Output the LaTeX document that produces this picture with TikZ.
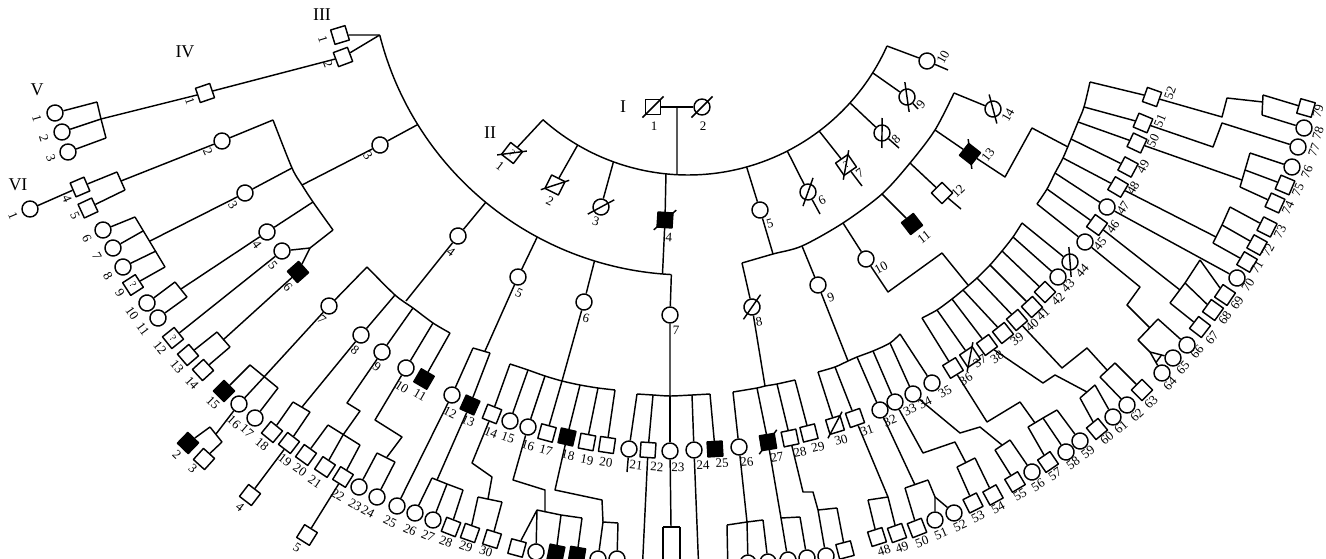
\documentclass[tikz,border=0pt]{standalone}
\usepackage{fontspec}
\setmainfont{Liberation Serif}
\usetikzlibrary{calc}
\tikzset{
  sym/.style={draw,line width=1.45pt,inner sep=0pt,fill=white},
  sq/.style={sym,rectangle,minimum size=15pt},
  sqf/.style={sq,fill=black},
  ci/.style={sym,circle,minimum size=16pt},
  lab/.style={inner sep=0pt,font=\fontsize{13}{13}\selectfont},
  gen/.style={inner sep=0pt,font=\fontsize{18}{18}\selectfont},
  qm/.style={inner sep=0pt,font=\fontsize{10}{10}\selectfont},
}
\newcommand\rotfor[2]{\pgfmathsetmacro\rr{atan2(-(#2)-70,(#1)-684)+90}}
\newcommand\ind[7]{\rotfor{#3}{#4}\node[#1,rotate=\rr] (#2) at (#3,#4) {};\node[lab,rotate=\rr] (#2l) at (#6,#7) {#5};}
\newcommand\indn[4]{\rotfor{#3}{#4}\node[#1,rotate=\rr] (#2) at (#3,#4) {};}
\newcommand\qmark[1]{\node[qm,rotate=\rr] (#1q) at (#1) {?};}
\newcommand\dec[1]{\draw ($(#1.center)!15pt!(#1.south west)$) -- ($(#1.center)!15pt!(#1.north east)$);}
\begin{document}
\begin{tikzpicture}[x=1pt,y=-1pt,line width=1.45pt,line join=round]
\useasboundingbox (0,0) rectangle (1326,559);
\clip (0,0) rectangle (1326,559);
% generation numerals
\node[gen] (gI) at (623,107) {I};
\node[gen] (gII) at (490,133) {II};
\node[gen] (gIII) at (322,15) {III};
\node[gen] (gIV) at (185,52) {IV};
\node[gen] (gV) at (37,90) {V};
\node[gen] (gVI) at (18,185) {VI};
% ---------------- Generation I
\node[sq] (I1) at (653,107) {};
\node[ci] (I2) at (702,107) {};
\node[lab] (I1l) at (654,126) {1};
\node[lab] (I2l) at (703,126) {2};
\dec{I1} \dec{I2}
% ---------------- Generation II
\ind{sq}{II1}{512}{153}{1}{500}{166}\qmark{II1}
\ind{sq}{II2}{555}{185}{2}{550}{201}
\ind{ci}{II3}{601}{207}{3}{596}{221}
\ind{sqf}{II4}{665}{220}{4}{669}{237}
\ind{ci}{II5}{760}{210}{5}{770}{224}
\ind{ci}{II6}{808}{192}{6}{822}{200}
\ind{sq}{II7}{846}{165}{7}{860}{173}\qmark{II7}
\ind{ci}{II8}{882}{133}{8}{896}{139}
\ind{ci}{II9}{907}{97}{9}{921}{104}
\ind{ci}{II10}{927}{61}{10}{943}{57}
\foreach \n in {II1,II2,II3,II4,II6,II7,II8,II9} {\dec{\n}}
% ---------------- Generation III
\ind{sq}{III1}{340}{35}{1}{323}{39}
\ind{sq}{III2}{343}{57}{2}{328}{64}
\ind{ci}{III3}{380}{145}{3}{368}{156}
\ind{ci}{III4}{458}{236}{4}{451}{252}
\ind{ci}{III5}{518}{277}{5}{519}{293}
\ind{ci}{III6}{584}{302}{6}{586}{318}
\ind{ci}{III7}{670}{315}{7}{676}{330}
\ind{ci}{III8}{752}{307}{8}{759}{322}
\ind{ci}{III9}{818}{285}{9}{831}{297}
\ind{ci}{III10}{866}{259}{10}{881}{268}
\ind{sqf}{III11}{912}{224}{11}{924}{237}
\ind{sq}{III12}{942}{193}{12}{958}{191}
\ind{sqf}{III13}{970}{154}{13}{988}{155}
\ind{ci}{III14}{993}{109}{14}{1008}{115}
\foreach \n in {III8,III13,III14} {\dec{\n}}
% ---------------- Generation IV
\ind{sq}{IV1}{205}{93}{1}{190}{101}
\ind{ci}{IV2}{222}{141}{2}{208}{152}
\ind{ci}{IV3}{245}{193}{3}{233}{205}
\ind{ci}{IV4}{267}{232}{4}{257}{245}
\ind{ci}{IV5}{282}{251}{5}{273}{265}
\ind{sqf}{IV6}{298}{272}{6}{288}{287}
\ind{ci}{IV7}{329}{306}{7}{322}{320}
\ind{ci}{IV8}{361}{335}{8}{355}{350}
\ind{ci}{IV9}{382}{352}{9}{377}{367}
\ind{ci}{IV10}{406}{368}{10}{402}{387}
\ind{sqf}{IV11}{424}{379}{11}{420}{395}
\ind{ci}{IV12}{452}{395}{12}{450}{413}
\ind{sqf}{IV13}{470}{405}{13}{468}{421}
\ind{sq}{IV14}{492}{414}{14}{491}{433}
\ind{ci}{IV15}{510}{421}{15}{508}{438}
\ind{ci}{IV16}{528}{427}{16}{528}{445}
\ind{sq}{IV17}{547}{433}{17}{546}{450}
\ind{sqf}{IV18}{567}{437}{18}{568}{455}
\ind{sq}{IV19}{587}{442}{19}{587}{460}
\ind{sq}{IV20}{607}{445}{20}{606}{462}
\ind{ci}{IV21}{629}{449}{21}{636}{465}
\ind{sq}{IV22}{648}{450}{22}{657}{467}
\ind{ci}{IV23}{670}{451}{23}{678}{467}
\ind{ci}{IV24}{694}{450}{24}{703}{465}
\ind{sqf}{IV25}{715}{449}{25}{722}{463}
\ind{ci}{IV26}{739}{447}{26}{747}{462}
\ind{sqf}{IV27}{768}{442}{27}{777}{457}
\ind{sq}{IV28}{790}{438}{28}{800}{452}
\ind{sq}{IV29}{809}{433}{29}{818}{447}
\ind{sq}{IV30}{835}{425}{30}{841}{440}
\ind{sq}{IV31}{855}{418}{31}{867}{430}
\ind{ci}{IV32}{880}{410}{32}{890}{421}
\ind{ci}{IV33}{895}{402}{33}{910}{410}
\ind{ci}{IV34}{913}{394}{34}{925}{403}
\ind{ci}{IV35}{932}{383}{35}{945}{392}
\ind{sq}{IV36}{953}{368}{36}{966}{379}
\ind{sq}{IV37}{970}{357}{37}{980}{361}
\ind{sq}{IV38}{987}{345}{38}{997}{357}
\ind{sq}{IV39}{1003}{333}{39}{1017}{339}
\ind{sq}{IV40}{1017}{320}{40}{1032}{325}
\ind{sq}{IV41}{1032}{307}{41}{1043}{314}
\ind{sq}{IV42}{1045}{292}{42}{1058}{299}
\ind{ci}{IV43}{1058}{277}{43}{1068}{286}
\ind{ci}{IV44}{1070}{262}{44}{1082}{271}
\ind{ci}{IV45}{1085}{242}{45}{1100}{244}
\ind{sq}{IV46}{1097}{225}{46}{1113}{227}
\ind{ci}{IV47}{1107}{207}{47}{1123}{208}
\ind{sq}{IV48}{1118}{187}{48}{1133}{188}
\ind{sq}{IV49}{1128}{167}{49}{1143}{167}
\ind{sq}{IV50}{1137}{143}{50}{1153}{141}
\ind{sq}{IV51}{1143}{123}{51}{1160}{121}
\ind{sq}{IV52}{1152}{97}{52}{1170}{93}
\foreach \n in {IV27,IV30,IV37,IV44} {\dec{\n}}
% ---------------- Generation V
\ind{ci}{V1}{55}{113}{1}{37}{118}
\ind{ci}{V2}{62}{132}{2}{44}{138}
\ind{ci}{V3}{68}{152}{3}{51}{158}
\ind{sq}{V4}{80}{187}{4}{67}{199}
\ind{sq}{V5}{88}{208}{5}{75}{216}
\ind{ci}{V6}{103}{230}{6}{87}{238}
\ind{ci}{V7}{113}{248}{7}{97}{256}
\ind{ci}{V8}{123}{267}{8}{108}{276}
\ind{sq}{V9}{133}{285}{9}{120}{293}\qmark{V9}
\ind{ci}{V10}{147}{303}{10}{132}{313}
\ind{ci}{V11}{158}{318}{11}{143}{329}
\ind{sq}{V12}{173}{338}{12}{160}{348}\qmark{V12}
\ind{sq}{V13}{188}{355}{13}{177}{367}
\ind{sq}{V14}{203}{370}{14}{192}{383}
\ind{sqf}{V15}{224}{391}{15}{213}{403}
\ind{ci}{V16}{239}{404}{16}{234}{422}
\ind{ci}{V17}{255}{418}{17}{247}{431}
\ind{sq}{V18}{272}{432}{18}{262}{444}
\ind{sq}{V19}{289}{443}{19}{285}{460}
\ind{sq}{V20}{306}{455}{20}{300}{470}
\ind{sq}{V21}{325}{467}{21}{315}{482}
\ind{sq}{V22}{343}{477}{22}{338}{495}
\ind{ci}{V23}{359}{487}{23}{355}{505}
\ind{ci}{V24}{377}{497}{24}{368}{512}
\ind{ci}{V25}{397}{506}{25}{390}{522}
\ind{ci}{V26}{415}{513}{26}{410}{530}
\ind{ci}{V27}{433}{520}{27}{428}{536}
\ind{sq}{V28}{451}{527}{28}{446}{542}
\ind{sq}{V29}{470}{533}{29}{466}{547}
\ind{sq}{V30}{492}{539}{30}{486}{551}
\indn{sq}{V31}{517}{548}
\indn{ci}{V32}{536}{552}
\indn{sqf}{V33}{556}{553}
\indn{sqf}{V34}{577}{555}
\indn{ci}{V35}{598}{559}
\indn{ci}{V36}{617}{559}
\indn{ci}{Vb1}{748}{563}
\indn{ci}{Vb2}{768}{562}
\indn{ci}{Vb3}{788}{560}
\indn{ci}{Vb4}{807}{558}
\indn{ci}{Vb5}{826}{556}
\indn{sq}{Vb6}{845}{550}
\ind{sq}{V48}{877}{537}{48}{884}{550}
\ind{sq}{V49}{897}{533}{49}{902}{547}
\ind{sq}{V50}{917}{528}{50}{922}{542}
\ind{ci}{V51}{935}{520}{51}{941}{534}
\ind{ci}{V52}{954}{513}{52}{960}{526}
\ind{sq}{V53}{973}{503}{53}{978}{517}
\ind{sq}{V54}{993}{495}{54}{998}{508}
\ind{sq}{V55}{1015}{482}{55}{1020}{495}
\ind{ci}{V56}{1032}{472}{56}{1038}{485}
\ind{sq}{V57}{1048}{462}{57}{1055}{474}
\ind{ci}{V58}{1066}{452}{58}{1073}{463}
\ind{ci}{V59}{1080}{441}{59}{1088}{452}
\ind{sq}{V60}{1097}{429}{60}{1107}{438}
\ind{ci}{V61}{1113}{417}{61}{1121}{427}
\ind{ci}{V62}{1127}{405}{62}{1137}{415}
\ind{sq}{V63}{1142}{390}{63}{1151}{402}
\ind{ci}{V64}{1162}{373}{64}{1170}{384}
\ind{ci}{V65}{1173}{358}{65}{1183}{368}
\ind{ci}{V66}{1187}{345}{66}{1197}{352}
\ind{sq}{V67}{1200}{327}{67}{1212}{338}
\ind{sq}{V68}{1213}{310}{68}{1225}{318}
\ind{sq}{V69}{1225}{295}{69}{1237}{303}
\ind{ci}{V70}{1237}{278}{70}{1248}{285}
\ind{sq}{V71}{1247}{262}{71}{1257}{267}
\ind{sq}{V72}{1257}{245}{72}{1268}{250}
\ind{sq}{V73}{1267}{227}{73}{1280}{232}
\ind{sq}{V74}{1275}{203}{74}{1288}{208}
\ind{sq}{V75}{1285}{185}{75}{1298}{190}
\ind{ci}{V76}{1292}{167}{76}{1307}{172}
\ind{ci}{V77}{1298}{147}{77}{1314}{150}
\ind{ci}{V78}{1304}{128}{78}{1318}{133}
\ind{sq}{V79}{1306}{108}{79}{1318}{111}
% ---------------- Generation VI
\ind{ci}{VI1}{30}{209}{1}{13}{216}
\ind{sqf}{VI2}{188}{443}{2}{177}{455}
\ind{sq}{VI3}{204}{459}{3}{193}{469}
\ind{sq}{VI4}{250}{495}{4}{240}{507}
\ind{sq}{VI5}{307}{535}{5}{297}{548}
% ================= junction coordinates
\coordinate (C2) at (688,-43);
\coordinate (mI) at (677,107);
\foreach \k/\a in {1/131.7,2/120.4,3/110.0,4/95.8,I/92.9,5/74.4,6/62.9,7/53.0,8/42.0,9/32.1,10/24.1}
  {\coordinate (a\k) at ($(C2)+(\a:218)$);}
\foreach \k/\a in {1/165.8,3/148.2,4/129.5,5/118.3,6/107.1,II4/94.6,7/93.0}
  {\coordinate (b\k) at ($(C2)+(\a:318)$);}
\foreach \k/\x/\y in {8/742/263,II5/773/254,9/802/246,10/843/223,11/882/194,12/910/163,13/935/130,14/954/93}
  {\coordinate (c\k) at (\x,\y);}
% stubs
\coordinate (s6) at (820,214); \coordinate (s7) at (862,186); \coordinate (s8) at (899,148);
\coordinate (s9) at (918,109); \coordinate (s10) at (948,70); \coordinate (s12) at (961,209);
\coordinate (s21) at (627,472);
% ================= connectors
% I and II
\draw (I1) -- (I2);
\draw (mI) -- (aI);
\draw (a1) arc[start angle=131.7,end angle=24.1,radius=218];
\foreach \k in {1,...,10} {\draw (a\k) -- (II\k);}
\draw (II6) -- (s6); \draw (II7) -- (s7); \draw (II8) -- (s8);
\draw (II9) -- (s9); \draw (II10) -- (s10);
\draw (II4) -- (bII4);
\draw (II5) -- (cII5);
% III (children of II-4)
\draw (b1) arc[start angle=165.8,end angle=93.0,radius=318];
\draw (b1) -- (III1); \draw (b1) -- (III2);
\foreach \k in {3,...,7} {\draw (b\k) -- (III\k);}
% III (children of II-5)
\draw plot[smooth] coordinates {(c8) (cII5) (c9) (c10) (c11) (c12) (c13) (c14)};
\foreach \k in {8,...,14} {\draw (c\k) -- (III\k);}
\draw (III12) -- (s12);
% IV
\draw (III2) -- (IV1);
\coordinate (m2) at (273,120); \coordinate (m3) at (292,168); \coordinate (mP) at (302,185);
\coordinate (m4) at (313,202); \coordinate (m5) at (333,230); \coordinate (tw56) at (310,248);
\draw plot[smooth] coordinates {(m2) (m3) (mP) (m4) (m5)};
\draw (III3) -- (mP); \draw (m2) -- (IV2); \draw (m3) -- (IV3); \draw (m4) -- (IV4);
\draw (m5) -- (tw56); \draw (tw56) -- (IV5); \draw (tw56) -- (IV6);
\coordinate (n7) at (367,267); \coordinate (n8) at (395,295); \coordinate (nP) at (406,301);
\coordinate (n9) at (413,308); \coordinate (n10) at (433,323); \coordinate (n11) at (450,333);
\draw plot[smooth] coordinates {(n7) (n8) (n9) (n10) (n11)};
\draw (III4) -- (nP);
\foreach \k in {7,...,11} {\draw (n\k) -- (IV\k);}
\coordinate (o12) at (473,348); \coordinate (oP) at (485,351); \coordinate (o13) at (490,353);
\draw (o12) -- (o13); \draw (III5) -- (oP); \draw (o12) -- (IV12); \draw (o13) -- (IV13);
\foreach \k/\x/\y in {14/510/364,15/528/370,16/545/376,17/562/381,18/580/385,19/598/388,20/615/390}
  {\coordinate (p\k) at (\x,\y);}
\draw plot[smooth] coordinates {(p14) (p15) (p16) (p17) (p18) (p19) (p20)};
\draw (III6) -- (p17);
\foreach \k in {14,...,20} {\draw (p\k) -- (IV\k);}
\foreach \k/\x/\y in {21/637/394,22/653/395,23/670/396,24/692/395,25/710/394}
  {\coordinate (q\k) at (\x,\y);}
\draw plot[smooth] coordinates {(q21) (q22) (q23) (q24) (q25)};
\draw (III7) -- (q23);
\foreach \k in {21,...,25} {\draw (q\k) -- (IV\k);}
\draw (IV21) -- (s21);
\coordinate (r26) at (733,392); \coordinate (r27) at (757,388); \coordinate (rP) at (765,386);
\coordinate (r28) at (777,384); \coordinate (r29) at (795,380);
\draw plot[smooth] coordinates {(r26) (r27) (rP) (r28) (r29)};
\draw (III8) -- (rP);
\foreach \k in {26,...,29} {\draw (r\k) -- (IV\k);}
\foreach \k/\x/\y in {30/818/372,31/835/367,P/848/361,32/857/357,33/873/351,34/890/343,35/900/334}
  {\coordinate (s\k) at (\x,\y);}
\draw plot[smooth] coordinates {(s30) (s31) (sP) (s32) (s33) (s34) (s35)};
\draw (III9) -- (sP);
\foreach \k in {30,...,35} {\draw (s\k) -- (IV\k);}
\foreach \k/\x/\y in {36/922/318,37/937/310,38/952/299,39/963/290,P/968/285,40/977/278,41/990/265,42/1002/251,43/1013/237,44/1022/223}
  {\coordinate (t\k) at (\x,\y);}
\draw plot[smooth] coordinates {(t36) (t37) (t38) (t39) (t40) (t41) (t42) (t43) (t44)};
\draw (III10) -- (888,292) -- (942,253) -- (tP);
\foreach \k in {36,...,44} {\draw (t\k) -- (IV\k);}
\foreach \k/\x/\y in {52/1090/82,51/1084/107,50/1078/122,49/1071/139,P/1068/147,48/1063/158,47/1055/173,46/1047/189,45/1037/204}
  {\coordinate (u\k) at (\x,\y);}
\draw plot[smooth] coordinates {(u52) (u51) (u50) (u49) (u48) (u47) (u46) (u45)};
\draw (III13) -- (1005,177) -- (1032,128) -- (uP);
\foreach \k in {45,...,52} {\draw (u\k) -- (IV\k);}
% V (left)
\coordinate (v1) at (97,102); \coordinate (v2) at (101,119); \coordinate (v3) at (106,138);
\draw (v1) -- (v2) -- (v3); \draw (IV1) -- (v2);
\draw (v1) -- (V1); \draw (v2) -- (V2); \draw (v3) -- (V3);
\coordinate (v4) at (117,172); \coordinate (v4P) at (121,181); \coordinate (v5) at (125,190);
\draw (v4) -- (v5); \draw (IV2) -- (v4P); \draw (v4) -- (V4); \draw (v5) -- (V5);
\draw (V4) -- (VI1);
\coordinate (w6) at (135,217); \coordinate (w7) at (143,231); \coordinate (wP) at (150,241);
\coordinate (w8) at (156,251); \coordinate (w9) at (165,267);
\draw (w6) -- (w9); \draw (IV3) -- (wP);
\foreach \k in {6,...,9} {\draw (w\k) -- (V\k);}
\coordinate (x10) at (175,282); \coordinate (xP) at (181,289); \coordinate (x11) at (187,297);
\draw (x10) -- (x11); \draw (IV4) -- (xP); \draw (x10) -- (V10); \draw (x11) -- (V11);
\draw (IV5) -- (V12);
\coordinate (y13) at (217,332); \coordinate (yP) at (223,340); \coordinate (y14) at (230,347);
\draw (y13) -- (y14); \draw (IV6) -- (yP); \draw (y13) -- (V13); \draw (y14) -- (V14);
\coordinate (z15) at (250,365); \coordinate (z16) at (264,377); \coordinate (z17) at (278,388);
\draw (z15) -- (z17); \draw (IV7) -- (z16);
\foreach \k in {15,16,17} {\draw (z\k) -- (V\k);}
\coordinate (e2) at (210,427); \coordinate (eP) at (216,434); \coordinate (e3) at (222,442);
\draw (e2) -- (e3); \draw (V16) -- (eP); \draw (e2) -- (VI2); \draw (e3) -- (VI3);
\coordinate (f18) at (293,402); \coordinate (fP) at (302,407); \coordinate (f19) at (310,412);
\draw (f18) -- (f19); \draw (IV8) -- (fP); \draw (f18) -- (V18); \draw (f19) -- (V19);
\draw (V19) -- (VI4);
\coordinate (g20) at (328,425); \coordinate (g21) at (343,435); \coordinate (g22) at (360,445);
\draw (g20) -- (g22); \draw (IV9) -- (347,403) -- (360,411) -- (g21);
\foreach \k in {20,21,22} {\draw (g\k) -- (V\k);}
\draw (V22) -- (VI5);
\coordinate (h23) at (377,453); \coordinate (hP) at (387,457); \coordinate (h24) at (395,462);
\draw (h23) -- (h24); \draw (IV10) -- (375,420) -- (402,437) -- (hP);
\draw (h23) -- (V23); \draw (h24) -- (V24);
\draw (IV12) -- (V25);
\coordinate (k26) at (432,478); \coordinate (kP) at (437,480); \coordinate (k27) at (447,484); \coordinate (k28) at (463,490);
\draw (k26) -- (k27) -- (k28); \draw (IV13) -- (kP);
\foreach \k in {26,27,28} {\draw (k\k) -- (V\k);}
\coordinate (l29) at (478,497); \coordinate (lP) at (488,499); \coordinate (l30) at (502,502);
\draw (l29) -- (l30); \draw (IV14) -- (472,463) -- (492,477) -- (lP);
\draw (l29) -- (V29); \draw (l30) -- (V30);
\coordinate (g31) at (537,510); \coordinate (gP) at (545,512); \coordinate (g33) at (561,515); \coordinate (g34) at (582,518);
\draw (g31) -- (g33) -- (g34); \draw (IV16) -- (513,480) -- (545,490) -- (gP);
\draw (g31) -- (V31); \draw (g31) -- (V32); \draw (g33) -- (V33); \draw (g34) -- (V34);
\coordinate (h35) at (603,522); \coordinate (h36) at (618,523);
\draw (h35) -- (h36); \draw (IV18) -- (555,490) -- (602,500) -- (h35);
\draw (h35) -- (V35); \draw (h36) -- (V36);
% lines leaving the picture at the bottom
\coordinate (i1) at (663,527); \coordinate (iP) at (671,527); \coordinate (i2) at (680,527);
\coordinate (i1e) at (663,575); \coordinate (i2e) at (680,575);
\coordinate (d22) at (642,575); \coordinate (d24) at (699,575); \coordinate (d26) at (728,575);
\draw (i1) -- (i2); \draw (IV23) -- (iP); \draw (i1) -- (i1e); \draw (i2) -- (i2e);
\draw (IV22) -- (d22); \draw (IV24) -- (d24);
\coordinate (j1) at (727,525); \coordinate (jP) at (747,522); \coordinate (j3) at (763,520);
\draw (j1) -- (jP) -- (j3); \draw (IV26) -- (jP);
\draw (j1) -- (d26); \draw (jP) -- (Vb1); \draw (j3) -- (Vb2);
\coordinate (k1) at (781,518); \coordinate (k2) at (800,517);
\draw (k1) -- (k2); \draw (IV27) -- (k1); \draw (k1) -- (Vb3); \draw (k2) -- (Vb4);
\coordinate (l1) at (818,510); \coordinate (l2) at (837,508);
\draw (l1) -- (l2); \draw (IV28) -- (803,492) -- (813,492) -- (l1);
\draw (l1) -- (Vb5); \draw (l2) -- (Vb6);
% V (right)
\coordinate (o48) at (868,500); \coordinate (o49) at (888,497);
\draw (o48) -- (o49); \draw (IV31) -- (o49); \draw (o48) -- (V48); \draw (o49) -- (V49);
\coordinate (o50) at (905,488); \coordinate (oQ) at (915,485); \coordinate (o51) at (928,480); \coordinate (tw51) at (935,497);
\draw (o50) -- (o51); \draw (IV32) -- (oQ); \draw (o50) -- (V50);
\draw (o51) -- (tw51); \draw (tw51) -- (V51); \draw (tw51) -- (V52);
\coordinate (o53) at (957,467); \coordinate (oR) at (966,463); \coordinate (o54) at (975,458);
\draw (o53) -- (o54); \draw (IV33) -- (923,453) -- (955,442) -- (oR);
\draw (o53) -- (V53); \draw (o54) -- (V54);
\coordinate (o55) at (995,450); \coordinate (oS) at (1002,445); \coordinate (o56) at (1010,440);
\draw (o55) -- (o56); \draw (IV34) -- (960,433) -- (980,427) -- (oS);
\draw (o55) -- (V55); \draw (o56) -- (V56);
\coordinate (o57) at (1028,427); \coordinate (o58) at (1043,418); \coordinate (o59) at (1057,410);
\draw (o57) -- (o58) -- (o59); \draw (IV36) -- (987,422) -- (1020,402) -- (1035,423);
\draw (o57) -- (V57); \draw (o58) -- (V58); \draw (o59) -- (V59);
\coordinate (o60) at (1080,398); \coordinate (oT) at (1087,392); \coordinate (o61) at (1095,385);
\draw (o60) -- (o61); \draw (IV38) -- (1043,383) -- (1055,375) -- (oT);
\draw (o60) -- (V60); \draw (o61) -- (V61);
\coordinate (o62) at (1100,377); \coordinate (oU) at (1107,370); \coordinate (o63) at (1115,363);
\draw (o62) -- (o63); \draw (IV40) -- (1062,368) -- (1087,348) -- (oU);
\draw (o62) -- (V62); \draw (o63) -- (V63);
\coordinate (o66) at (1158,319); \coordinate (oV) at (1150,328); \coordinate (o64) at (1138,340); \coordinate (tw64) at (1150,352);
\draw (o66) -- (o64); \draw (IV45) -- (1140,287) -- (1127,305) -- (oV);
\draw (o66) -- (V66); \draw (o64) -- (tw64); \draw (tw64) -- (V64); \draw (tw64) -- (V65);
\draw ($(tw64)!0.5!(V64)$) -- ($(tw64)!0.5!(V65)$);
\coordinate (o69) at (1200,260); \coordinate (o68) at (1185,283); \coordinate (oW) at (1180,290); \coordinate (o67) at (1170,303);
\draw (o69) -- (o68) -- (o67); \draw (IV46) -- (oW);
\draw (o69) -- (V69); \draw (o68) -- (V68); \draw (o67) -- (V67);
\draw (IV47) -- (V70);
\coordinate (o73) at (1230,207); \coordinate (o72) at (1222,225); \coordinate (oX) at (1216,237); \coordinate (o71) at (1213,243);
\draw (o73) -- (o72) -- (o71); \draw (IV48) -- (oX);
\draw (o73) -- (V73); \draw (o72) -- (V72); \draw (o71) -- (V71);
\coordinate (o76) at (1250,153); \coordinate (o75) at (1245,170); \coordinate (oY) at (1242,180); \coordinate (o74) at (1240,187);
\draw (o76) -- (o75) -- (o74); \draw (IV50) -- (oY);
\draw (o76) -- (V76); \draw (o75) -- (V75); \draw (o74) -- (V74);
\draw (IV51) -- (1213,147) -- (1222,123) -- (V77);
\coordinate (o79) at (1263,95); \coordinate (oZ) at (1263,102); \coordinate (o78) at (1262,115);
\draw (o79) -- (o78); \draw (IV52) -- (1222,117) -- (1227,98) -- (oZ);
\draw (o79) -- (V79); \draw (o78) -- (V78);
\end{tikzpicture}
\end{document}
